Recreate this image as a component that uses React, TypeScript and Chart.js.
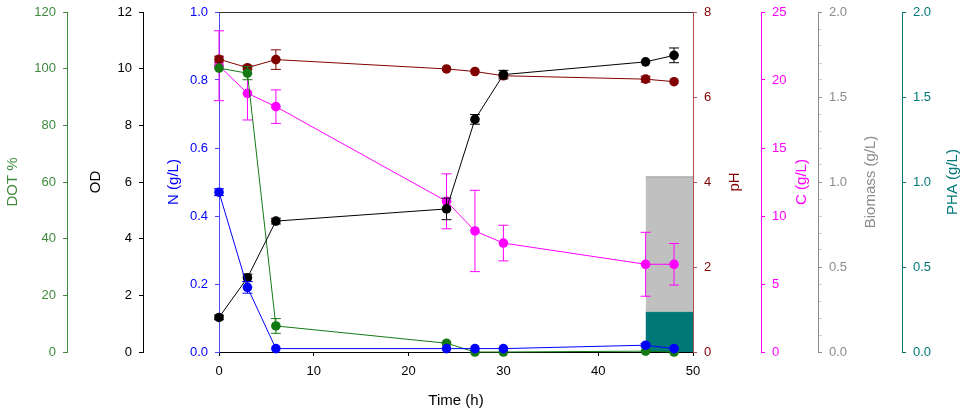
import { useEffect, useRef } from 'react';
import { Chart, registerables } from 'chart.js';

Chart.register(...registerables);

// sampling times (h)
const times = [0, 3, 6, 24, 27, 30, 45, 48];
const od = [1.22, 2.62, 4.62, 5.05, 8.21, 9.79, 10.24, 10.47];
const odErr = [0.08, 0.13, 0.1, 0.38, 0.17, 0.15, 0, 0.26];
const nitrogen = [0.47, 0.19, 0.01, 0.01, 0.01, 0.01, 0.02, 0.01];
const nitrogenErr = [0.01, 0.017, 0, 0, 0, 0, 0.005, 0];
const dot = [100.2, 98.4, 9.2, 3.1, 0, 0, 0.3, 0];
const dotErr = [0, 2.3, 2.6, 0, 0, 0, 0, 0];
const ph = [6.89, 6.69, 6.88, 6.66, 6.6, 6.5, 6.42, 6.36];
const phErr = [0.07, 0.05, 0.23, 0, 0, 0.03, 0.07, 0];
const carbon = [21.05, 19.02, 18.04, 11.08, 8.9, 8.01, 6.45, 6.45];
const carbonErr = [2.57, 1.96, 1.23, 2.02, 2.99, 1.31, 2.35, 1.53];
// end-of-run bars (from 45 h to 50 h)
const barSpan = [45, 50];
const biomass = 1.03;
const pha = 0.233;

const FONT = '"Liberation Sans", Arial, sans-serif';
const GREEN = '#137a13';
const GREEN_AX = '#3f8a3f';
const BLUE = '#0000ff';
const BLUE_AX = '#4a4aff';
const DARKRED = '#800000';
const DARKRED_AX = '#b05050';
const MAGENTA = '#ff00ff';
const GRAY = '#8c8c8c';
const TEAL = '#007878';

const pts = (ys: number[]) => ys.map((y, i) => ({ x: times[i], y }));

const errorBars = {
  id: 'errorBars',
  beforeDatasetDraw(chart: any, args: any) {
    const ds = chart.data.datasets[args.index];
    if (!ds.errors) return;
    const xs = chart.scales[args.meta.xAxisID];
    const ys = chart.scales[args.meta.yAxisID];
    const ctx = chart.ctx;
    ctx.save();
    ctx.strokeStyle = ds.borderColor;
    ctx.lineWidth = 1;
    ds.data.forEach((p: any, i: number) => {
      const e = ds.errors[i];
      if (!e) return;
      const x = xs.getPixelForValue(p.x);
      const y1 = ys.getPixelForValue(p.y + e);
      const y2 = ys.getPixelForValue(p.y - e);
      ctx.beginPath();
      ctx.moveTo(x, y1);
      ctx.lineTo(x, y2);
      ctx.moveTo(x - 5, y1);
      ctx.lineTo(x + 5, y1);
      ctx.moveTo(x - 5, y2);
      ctx.lineTo(x + 5, y2);
      ctx.stroke();
    });
    ctx.restore();
  },
};

const frameTop = {
  id: 'frameTop',
  afterDraw(chart: any) {
    const { ctx, chartArea } = chart;
    ctx.save();
    ctx.strokeStyle = '#333';
    ctx.lineWidth = 1;
    ctx.beginPath();
    ctx.moveTo(chartArea.left, chartArea.top + 0.5);
    ctx.lineTo(chartArea.right, chartArea.top + 0.5);
    ctx.stroke();
    ctx.restore();
  },
};

// vertical axis titles, all reading bottom-to-top
const axisTitles = {
  id: 'axisTitles',
  afterDraw(chart: any, _args: any, opts: any) {
    const { ctx, chartArea } = chart;
    const cy = (chartArea.top + chartArea.bottom) / 2;
    (opts.items || []).forEach((t: any) => {
      const s = chart.scales[t.scale];
      ctx.save();
      ctx.translate(s.left + t.offset, cy);
      ctx.rotate(-Math.PI / 2);
      ctx.font = `15px ${FONT}`;
      ctx.fillStyle = t.color;
      ctx.textAlign = 'center';
      ctx.textBaseline = 'middle';
      ctx.fillText(t.text, 0, 0);
      ctx.restore();
    });
  },
};

const tickFont = { family: FONT, size: 13 };
const oneDec = (v: any) => Number(v).toFixed(1);

function yAxis(position: 'left' | 'right', weight: number, max: number, step: number, color: string, line: string, width: number, extra: any = {}) {
  return {
    type: 'linear',
    position,
    weight,
    min: 0,
    max,
    ticks: { stepSize: step, color, font: tickFont, padding: 7, autoSkip: false, ...(extra.ticks || {}) },
    grid: { drawOnChartArea: false, tickLength: 4, color: line, ...(extra.grid || {}) },
    border: { color: line },
    afterFit: (s: any) => {
      s.width = width;
      s.paddingTop = 12;
    },
  };
}

export default function App() {
  const canvasRef = useRef<HTMLCanvasElement>(null);
  const chartRef = useRef<Chart | null>(null);

  useEffect(() => {
    if (!canvasRef.current) return;
    chartRef.current?.destroy();
    const line = (label: string, data: number[], errors: number[], color: string, yAxisID: string) => ({
      label,
      data: pts(data),
      errors,
      yAxisID,
      xAxisID: 'x',
      borderColor: color,
      backgroundColor: color,
      pointBackgroundColor: color,
      pointBorderColor: color,
      borderWidth: 1,
      pointRadius: 4.8,
      pointBorderWidth: 0,
      clip: false,
    });
    const bar = (label: string, value: number, fillColor: string, edge: string, yAxisID: string) => ({
      label,
      data: barSpan.map((x) => ({ x, y: value })),
      yAxisID,
      xAxisID: 'x',
      borderColor: edge,
      backgroundColor: fillColor,
      borderWidth: 1,
      pointRadius: 0,
      fill: 'origin',
    });
    chartRef.current = new Chart(canvasRef.current, {
      type: 'line',
      data: {
        datasets: [
          line('N', nitrogen, nitrogenErr, BLUE, 'yN'),
          line('OD', od, odErr, '#000', 'yOD'),
          line('DOT', dot, dotErr, GREEN, 'yDOT'),
          line('pH', ph, phErr, DARKRED, 'yPH'),
          line('C', carbon, carbonErr, MAGENTA, 'yC'),
          bar('PHA', pha, TEAL, TEAL, 'yPHA'),
          bar('Biomass', biomass, '#c0c0c0', '#9a9a9a', 'yBio'),
        ] as any,
      },
      options: {
        animation: false,
        responsive: true,
        maintainAspectRatio: false,
        layout: { padding: { top: 0, left: 0, right: 0, bottom: 0 } },
        plugins: {
          legend: { display: false },
          tooltip: { enabled: false },
          axisTitles: {
            items: [
              { scale: 'yDOT', text: 'DOT %', color: GREEN_AX, offset: 13 },
              { scale: 'yOD', text: 'OD', color: '#000', offset: 29 },
              { scale: 'yN', text: 'N (g/L)', color: BLUE, offset: 31 },
              { scale: 'yPH', text: 'pH', color: DARKRED, offset: 42 },
              { scale: 'yC', text: 'C (g/L)', color: MAGENTA, offset: 40.5 },
              { scale: 'yBio', text: 'Biomass (g/L)', color: GRAY, offset: 52.5 },
              { scale: 'yPHA', text: 'PHA (g/L)', color: TEAL, offset: 51 },
            ],
          },
        } as any,
        scales: {
          x: {
            type: 'linear',
            min: 0,
            max: 50,
            ticks: { stepSize: 10, color: '#000', font: tickFont, padding: 8 },
            grid: { drawOnChartArea: false, tickLength: 4, color: '#000' },
            border: { color: '#000' },
            title: { display: true, text: 'Time (h)', color: '#000', font: { family: FONT, size: 15 }, padding: { top: 0, bottom: 3 } },
            afterFit: (s: any) => { s.height = 61; },
          },
          yDOT: yAxis('left', 3, 120, 20, GREEN_AX, GREEN_AX, 67),
          yOD: yAxis('left', 2, 12, 2, '#000', '#000', 76),
          yN: yAxis('left', 1, 1, 0.2, BLUE, BLUE_AX, 76, { ticks: { callback: oneDec } }),
          yPH: yAxis('right', 1, 8, 2, DARKRED, DARKRED_AX, 68),
          yC: yAxis('right', 2, 25, 5, MAGENTA, MAGENTA, 57),
          yBio: yAxis('right', 3, 2, 0.1, GRAY, GRAY, 84, {
            ticks: {
              callback: (v: any) => (Math.abs(v * 2 - Math.round(v * 2)) < 1e-6 ? Number(v).toFixed(1) : ''),
            },
            grid: {
              tickColor: (c: any) => {
                const v = c.tick?.value ?? 0;
                return Math.abs(v * 2 - Math.round(v * 2)) < 1e-6 ? GRAY : '#d0d0d0';
              },
            },
          }),
          yPHA: yAxis('right', 4, 2, 0.5, TEAL, TEAL, 67, { ticks: { callback: oneDec } }),
        } as any,
      },
      plugins: [errorBars, frameTop, axisTitles],
    });
    return () => { chartRef.current?.destroy(); };
  }, []);

  return (
    <div style={{ position: 'fixed', left: 0, top: 0, width: 969, height: 413, background: '#fff' }}>
      <canvas ref={canvasRef} />
    </div>
  );
}
